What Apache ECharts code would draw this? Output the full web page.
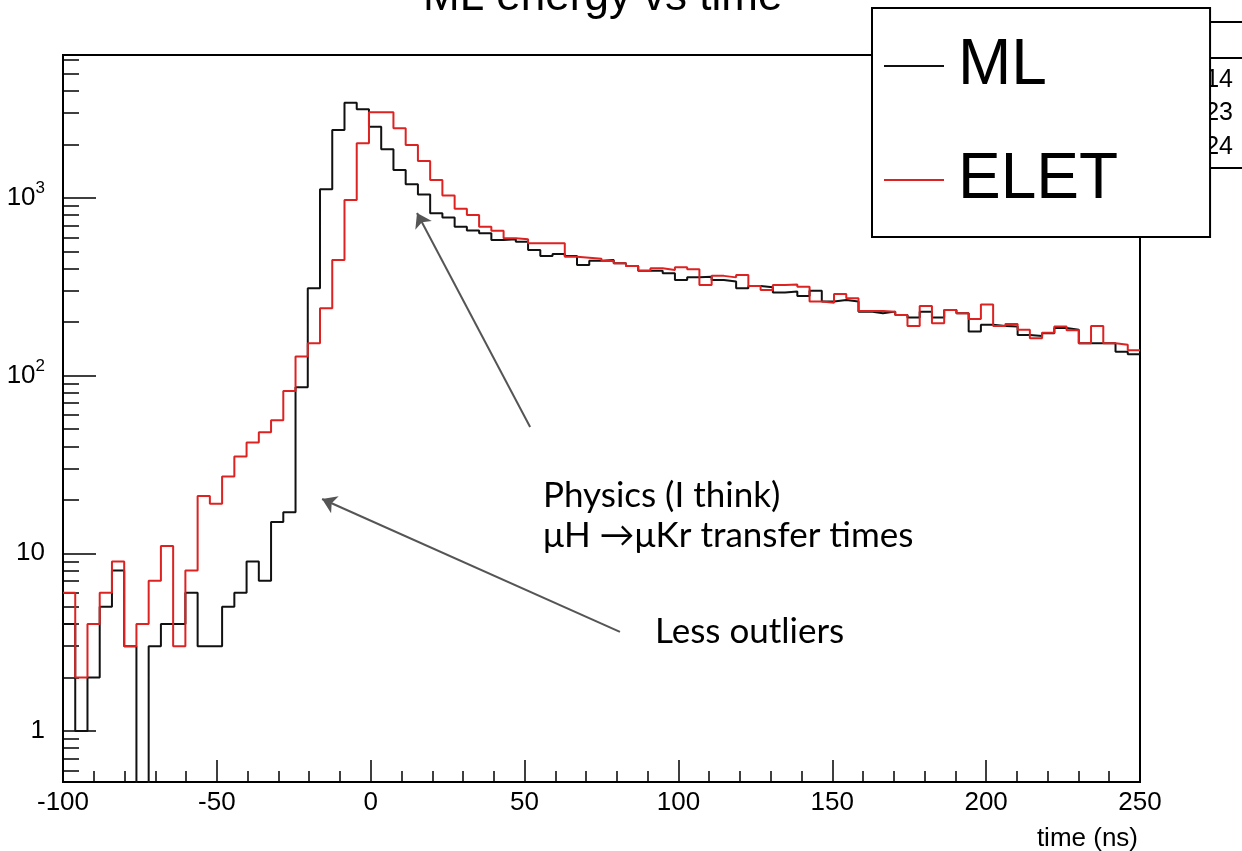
<!DOCTYPE html>
<html><head><meta charset="utf-8">
<script src="https://cdn.jsdelivr.net/npm/echarts@6/dist/echarts.min.js"></script>
<style>html,body{margin:0;padding:0;background:#fff}#c{width:1242px;height:851px}</style>
</head><body><div id="c"></div>
<script>
// Histogram definition (time in ns)
const BIN_MIN = -100;
const BIN_MAX = 250;
const N_BINS = 88;
const Y_MIN = 0.516;
const Y_MAX = 6370;

// Counts per bin
const mlCounts = [
  4, 1, 2, 5, 8, 3, 0, 3, 4, 4,
  6, 3, 3, 5, 6, 9, 7, 15, 17, 86,
  310, 1117, 2410, 3434, 3155, 2517, 1877, 1435, 1192, 1045,
  820, 775, 688, 655, 632, 580, 585, 567, 509, 471,
  484, 471, 419, 443, 447, 428, 414, 389, 389, 376,
  345, 357, 360, 345, 338, 310, 319, 314, 293, 297,
  280, 300, 261, 266, 261, 229, 224, 229, 219, 212,
  229, 212, 234, 224, 177, 193, 190, 189, 169, 167,
  173, 185, 181, 152, 152, 152, 136, 132
];
const eletCounts = [
  6, 2, 4, 6, 9, 3, 4, 7, 11, 3,
  8, 21, 19, 27, 35, 42, 48, 56, 82, 128,
  152, 239, 447, 973, 2027, 3033, 3033, 2465, 1985, 1614,
  1261, 1030, 868, 801, 688, 653, 592, 585, 556, 556,
  556, 467, 461, 455, 442, 428, 414, 389, 402, 393,
  407, 396, 323, 364, 357, 368, 319, 303, 323, 326,
  316, 261, 257, 288, 272, 231, 231, 229, 219, 190,
  246, 197, 234, 224, 208, 251, 190, 195, 181, 162,
  174, 189, 180, 152, 190, 152, 149, 139
];
const seriesNames = ['ML', 'ELET'];
const titleText = 'ML energy vs time';
const xAxisName = 'time (ns)';
const statsTail = ['14', '23', '24'];
const noteLines = ['Physics (I think)', 'μH →μKr transfer times'];
const noteLess = 'Less outliers';
// annotation arrows in data coordinates [time, counts]: tail -> head
const arrowPhysics = [[51.8, 51.4], [15.05, 822]];
const arrowOutliers = [[81.0, 3.61], [-15.8, 20.2]];

const binWidth = (BIN_MAX - BIN_MIN) / N_BINS;
function toSteps(counts) {
  const pts = counts.map((c, i) => [BIN_MIN + i * binWidth, c > 0 ? c : 1e-3]);
  pts.push([BIN_MAX, counts[counts.length - 1] > 0 ? counts[counts.length - 1] : 1e-3]);
  return pts;
}
const minorY = [];
for (let k = -1; k <= 3; k++) {
  for (let m = 2; m <= 9; m++) {
    const v = m * Math.pow(10, k);
    if (v > Y_MIN && v < Y_MAX) minorY.push(Math.log10(v));
  }
}

const FONT = 'Liberation Sans';
const NOTE_FONT = 'Lato';
const chart = echarts.init(document.getElementById('c'), null, {renderer: 'canvas'});
chart.setOption({
  animation: false,
  backgroundColor: '#fff',
  title: {
    text: titleText, left: 423, top: -24, padding: 0,
    textStyle: {fontFamily: FONT, fontSize: 44, fontWeight: 'normal', color: '#000'}
  },
  grid: {left: 63, right: 102, top: 55, bottom: 69, show: true, borderColor: '#000', borderWidth: 2,
         backgroundColor: 'transparent', containLabel: false, outerBoundsMode: 'none'},
  legend: {
    data: seriesNames, orient: 'vertical', left: 872, top: 8, z: 10,
    selectedMode: false, itemWidth: 60, itemHeight: 1, itemGap: 48,
    padding: [25, 92, 24, 11],
    itemStyle: {opacity: 0, borderWidth: 0},
    backgroundColor: '#fff', borderColor: '#000', borderWidth: 2, borderRadius: 0,
    textStyle: {fontFamily: FONT, fontSize: 64, color: '#000', lineHeight: 66, padding: [0, 0, 0, 9]}
  },
  xAxis: {
    type: 'value', min: BIN_MIN, max: BIN_MAX, interval: 50,
    name: xAxisName, nameLocation: 'end', nameGap: -2,
    nameTextStyle: {fontFamily: FONT, fontSize: 26, color: '#000', align: 'right', verticalAlign: 'top', padding: [44, 0, 0, 0]},
    axisLine: {onZero: false, lineStyle: {color: '#000', width: 2}},
    axisTick: {inside: true, length: 22, lineStyle: {color: '#000', width: 1.5}},
    minorTick: {show: true, splitNumber: 5, length: 11, lineStyle: {color: '#000', width: 1.5}},
    axisLabel: {fontFamily: FONT, fontSize: 26, color: '#000', margin: 8, formatter: v => String(v)},
    splitLine: {show: false}
  },
  yAxis: [{
    type: 'log', logBase: 10, min: Y_MIN, max: Y_MAX, position: 'left',
    axisLine: {onZero: false, lineStyle: {color: '#000', width: 2}},
    axisTick: {inside: true, length: 33, lineStyle: {color: '#000', width: 1.5}},
    axisLabel: {
      showMinLabel: false, showMaxLabel: false, margin: 18, color: '#000',
      formatter: function (v) {
        const l = Math.log10(v), e = Math.round(l);
        if (Math.abs(l - e) > 1e-6) return '';
        if (e === 0) return '{base|1}';
        if (e === 1) return '{base|10}';
        return '{base|10}{sup|' + e + '}';
      },
      rich: {
        base: {fontFamily: FONT, fontSize: 26, lineHeight: 36, color: '#000'},
        sup: {fontFamily: FONT, fontSize: 17, lineHeight: 17, verticalAlign: 'top', color: '#000'}
      }
    },
    splitLine: {show: false}
  }, {
    type: 'value', min: Math.log10(Y_MIN), max: Math.log10(Y_MAX), position: 'left', offset: 0,
    axisLine: {show: false, onZero: false},
    axisLabel: {show: false},
    axisTick: {show: true, inside: true, length: 16, customValues: minorY, lineStyle: {color: '#000', width: 1.5}},
    splitLine: {show: false}
  }],
  series: [{
    name: seriesNames[0], type: 'line', step: 'end', symbol: 'none', yAxisIndex: 0,
    data: toSteps(mlCounts),
    lineStyle: {color: '#111', width: 2}, itemStyle: {color: '#111'},
    z: 2,
    markLine: {
      silent: true, symbol: ['none', 'arrow'], symbolSize: 14,
      label: {show: false}, lineStyle: {color: '#555', width: 2, type: 'solid'},
      itemStyle: {color: '#555'},
      emphasis: {disabled: true},
      data: [
        [{coord: arrowPhysics[0]}, {coord: arrowPhysics[1]}],
        [{coord: arrowOutliers[0]}, {coord: arrowOutliers[1]}]
      ]
    }
  }, {
    name: seriesNames[1], type: 'line', step: 'end', symbol: 'none', yAxisIndex: 0,
    data: toSteps(eletCounts),
    lineStyle: {color: '#dd2222', width: 2}, itemStyle: {color: '#dd2222'},
    z: 3
  }],
  graphic: [
    {type: 'rect', z: 5, shape: {x: 1000, y: 22, width: 300, height: 146}, style: {fill: '#fff', stroke: '#000', lineWidth: 2}},
    {type: 'line', z: 5, shape: {x1: 1000, y1: 58, x2: 1300, y2: 58}, style: {stroke: '#000', lineWidth: 2}},
    {type: 'text', z: 5, x: 1233, y: 80, style: {text: statsTail[0], fontFamily: FONT, fontSize: 25, fill: '#000', align: 'right', verticalAlign: 'middle'}},
    {type: 'text', z: 5, x: 1233, y: 113, style: {text: statsTail[1], fontFamily: FONT, fontSize: 25, fill: '#000', align: 'right', verticalAlign: 'middle'}},
    {type: 'text', z: 5, x: 1233, y: 147, style: {text: statsTail[2], fontFamily: FONT, fontSize: 25, fill: '#000', align: 'right', verticalAlign: 'middle'}},
    {type: 'text', z: 20, x: 543, y: 496, style: {text: noteLines[0], fontFamily: NOTE_FONT, fontSize: 35, fill: '#000', align: 'left', verticalAlign: 'middle'}},
    {type: 'text', z: 20, x: 543, y: 536, style: {text: noteLines[1], fontFamily: NOTE_FONT, fontSize: 35, fill: '#000', align: 'left', verticalAlign: 'middle'}},
    {type: 'text', z: 20, x: 655, y: 632, style: {text: noteLess, fontFamily: NOTE_FONT, fontSize: 35, fill: '#000', align: 'left', verticalAlign: 'middle'}}
  ]
});
</script></body></html>
